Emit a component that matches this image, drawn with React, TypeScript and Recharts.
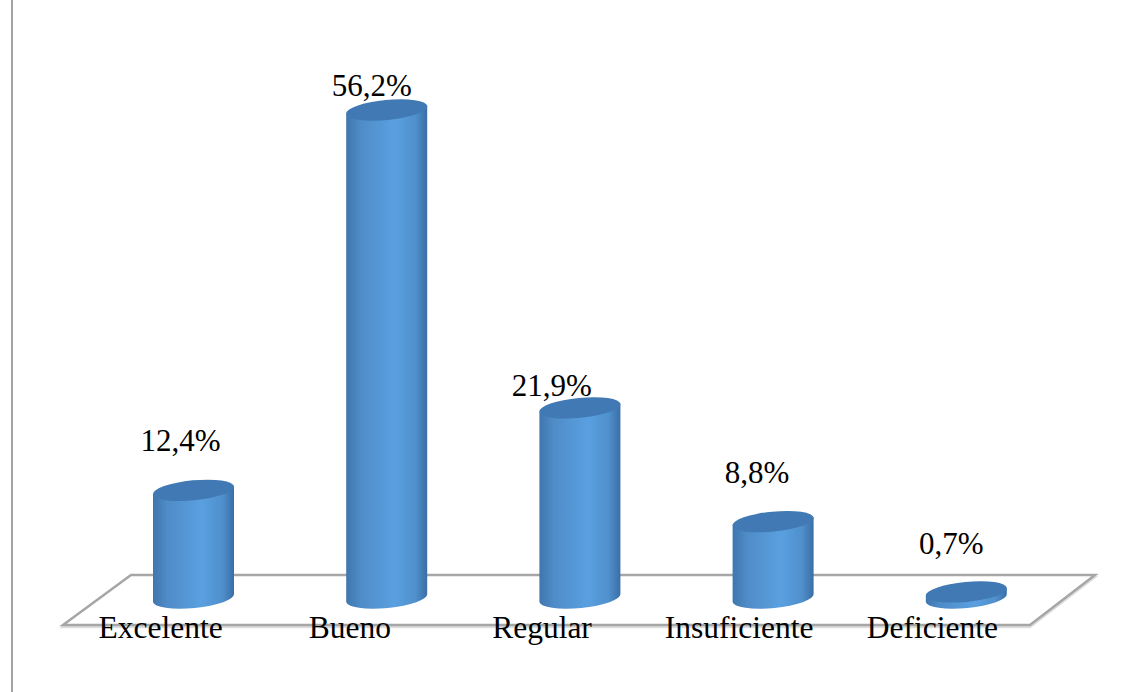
import { BarChart, Bar, XAxis, YAxis, LabelList } from "recharts";

const categories = ["Excelente", "Bueno", "Regular", "Insuficiente", "Deficiente"];
const percentages = [12.4, 56.2, 21.9, 8.8, 0.7];

// the labels in the picture do not sit centred on their bars
const tickShift = [-33, -37, -38, -34, -34];
const labelShift = [
  [-13, -39],
  [-15, -14],
  [-28, -12],
  [-16, -39],
  [-15, -38],
];

const chartData = categories.map((name, i) => ({ name, value: percentages[i] }));

const SERIF = '"Liberation Serif", "Times New Roman", serif';
const TILT = 4;
const CAP_RY = 10;

const Cylinder = ({ x, y, width, height }: any) => {
  const cx = x + width / 2;
  const right = x + width;
  const bottom = y + height;
  const body = `M${x} ${y + TILT} L${x} ${bottom + TILT} A${width / 2} ${CAP_RY} -5.5 0 0 ${right} ${bottom - TILT} L${right} ${y - TILT} Z`;
  return (
    <g>
      <path d={body} fill="url(#cylinderBody)" />
      <ellipse
        cx={cx}
        cy={y}
        rx={width / 2 + 0.3}
        ry={CAP_RY}
        fill="#4079b3"
        transform={`rotate(-5.5 ${cx} ${y})`}
      />
    </g>
  );
};

const CategoryTick = ({ x, y, payload, index }: any) => (
  <text x={x + tickShift[index]} y={y + 32} textAnchor="middle" fontFamily={SERIF} fontSize={31.5} fill="#000">
    {payload.value}
  </text>
);

const ValueLabel = ({ x, y, width, value, index }: any) => (
  <text
    x={x + width / 2 + labelShift[index][0]}
    y={y + labelShift[index][1]}
    textAnchor="middle"
    fontFamily={SERIF}
    fontSize={31}
    fill="#000"
  >
    {value.toFixed(1).replace(".", ",")}%
  </text>
);

export default function App() {
  return (
    <div style={{ position: "absolute", left: 0, top: 0, width: 1135, height: 692, background: "#fff" }}>
      <svg width={1135} height={692} style={{ position: "absolute", left: 0, top: 0 }}>
        <line x1={12} y1={0} x2={12} y2={692} stroke="#a3a3a3" strokeWidth={2} />
        <polygon points="63,627 131,577 1095,577 1030,627" fill="none" stroke="#dedede" strokeWidth={2.5} />
        <polygon points="63,625 131,575 1095,575 1030,625" fill="#fff" stroke="#a6a6a6" strokeWidth={2.5} />
      </svg>
      <div style={{ position: "absolute", left: 0, top: 0 }}>
        <BarChart
          width={1135}
          height={692}
          data={chartData}
          margin={{ top: 77, right: 72, bottom: 0, left: 97 }}
        >
          <defs>
            <linearGradient id="cylinderBody" x1="0" y1="0" x2="1" y2="0">
              <stop offset="0%" stopColor="#3f76ae" />
              <stop offset="18%" stopColor="#4f8cc8" />
              <stop offset="60%" stopColor="#5aa0e0" />
              <stop offset="86%" stopColor="#4f8fcc" />
              <stop offset="100%" stopColor="#3a6ea5" />
            </linearGradient>
          </defs>
          <XAxis
            dataKey="name"
            axisLine={false}
            tickLine={false}
            interval={0}
            height={94}
            tick={<CategoryTick />}
          />
          <YAxis hide domain={[0, 60]} />
          <Bar dataKey="value" barSize={81} shape={<Cylinder />} isAnimationActive={false}>
            <LabelList dataKey="value" content={<ValueLabel />} />
          </Bar>
        </BarChart>
      </div>
    </div>
  );
}
